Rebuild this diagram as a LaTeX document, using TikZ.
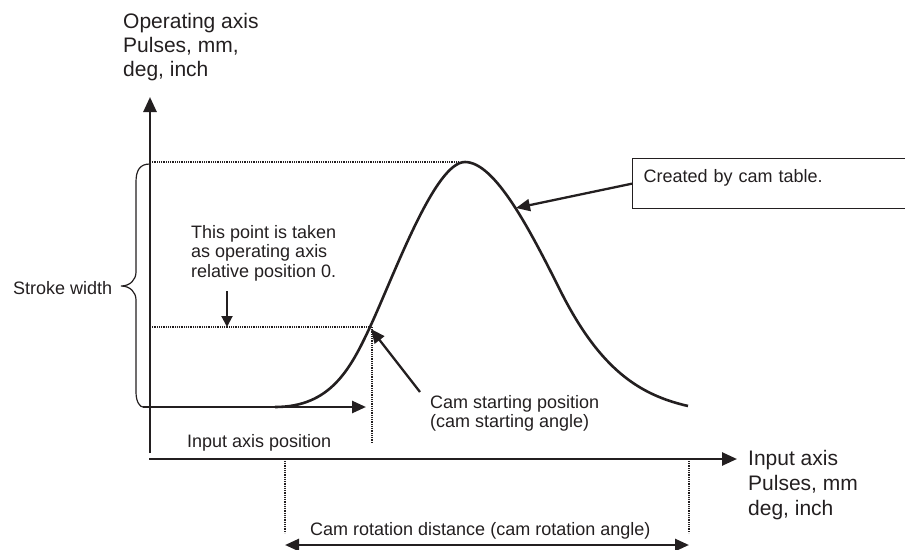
\documentclass[tikz,border=0pt]{standalone}
\usepackage{fontspec}
\setmainfont{Liberation Sans}
\usetikzlibrary{arrows.meta}
\definecolor{ink}{HTML}{231F20}
\begin{document}
\begin{tikzpicture}[x=1pt,y=-1pt,
  axisline/.style={line width=2.6pt, draw=ink, -{Triangle[length=15pt,width=13pt]}},
  ptr/.style={line width=2.3pt, draw=ink, -{Triangle[length=14pt,width=12pt]}},
  thinptr/.style={line width=2pt, draw=ink, -{Triangle[length=11pt,width=11pt]}},
  guide/.style={line width=1.4pt, draw=ink, dash pattern=on 1pt off 0.8pt},
  lbl/.style={text=ink, inner sep=0pt, anchor=base west, font=\fontsize{18}{19.5}\selectfont, align=left},
  biglbl/.style={lbl, font=\fontsize{21}{24}\selectfont},
]
\path[use as bounding box] (0,0) rectangle (905,549);

% coordinates
\coordinate (ytip) at (150,97);
\coordinate (ybot) at (150,453);
\coordinate (xs) at (149,459);
\coordinate (xtip) at (737,459);
\coordinate (c0) at (275,407);
\coordinate (cs) at (370,327);
\coordinate (pk) at (465,162);
\coordinate (c3) at (560,290);
\coordinate (ce) at (688,406);
\coordinate (ct) at (516,208);
\coordinate (ip0) at (143,407);
\coordinate (ip1) at (366,407);
\coordinate (rl) at (285,461);
\coordinate (rr) at (689,461);

% axes
\draw[axisline] (ybot) -- (ytip);
\draw[axisline] (xs) -- (xtip);

% guides
\draw[guide] (pk -| ytip) -- ([xshift=-7pt]pk);
\draw[guide] (cs -| ytip) -- (cs);
\draw[guide] ([xshift=2pt]cs) -- ([xshift=2pt]cs |- 0,443);
\draw[guide] (rl) -- (rl |- 0,533);
\draw[guide] (rr) -- (rr |- 0,533);

% cam curve
\draw[line width=2.6pt, ink] (c0) .. controls (330,407) and (350,370) .. (cs)
  .. controls (395,273) and (435,162) .. (pk)
  .. controls (495,162) and (530,230) .. (c3)
  .. controls (600,370) and (640,395) .. (ce);

% input axis position arrow
\draw[ptr, line width=2.6pt] (ip0) -- (ip1);

% brace
\draw[line width=1.2pt, ink] (150,164) .. controls (140,164) and (136,170) .. (136,182)
  -- (136,272) .. controls (136,280) and (130,286) .. (121,286)
  .. controls (130,286) and (136,292) .. (136,300)
  -- (136,392) .. controls (136,402) and (140,407) .. (ip0);

% labels (base anchor = baseline of the last line)
\node[biglbl] (ylab) at (123,76) {Operating axis\\Pulses, mm,\\deg, inch};
\node[biglbl, font=\fontsize{21}{25}\selectfont] (xlab) at (748,515) {Input axis\\Pulses, mm\\deg, inch};
\node[lbl] (note) at (191,277) {This point is taken\\as operating axis\\relative position 0.};
\node[lbl] (stroke) at (13,294) {Stroke width};
\node[lbl] (inpos) at (187,447) {Input axis position};
\node[lbl, font=\fontsize{18}{19}\selectfont] (camst) at (430,427) {Cam starting position\\(cam starting angle)};
\node[lbl] (rot) at (310,535) {Cam rotation distance (cam rotation angle)};

\node[draw=ink, line width=1.3pt, text=ink, anchor=north west, inner xsep=11pt, inner ysep=0pt,
  text height=24pt, text depth=26pt, text width=252pt, align=left,
  font=\fontsize{18}{20}\selectfont] (box) at (632,158) {Created by cam table.};

% pointers
\coordinate (na) at (227,291);
\draw[thinptr] (na) -- (na |- cs);
\coordinate (csa) at (420,392);
\draw[ptr] (csa) -- ([xshift=1pt,yshift=-2pt]cs);
\draw[ptr] (box.west) -- (ct);
\draw[ptr, line width=2.6pt, {Triangle[length=14pt,width=12pt]}-{Triangle[length=14pt,width=12pt]}] (rl |- 0,545) -- (rr |- 0,545);
\end{tikzpicture}
\end{document}
